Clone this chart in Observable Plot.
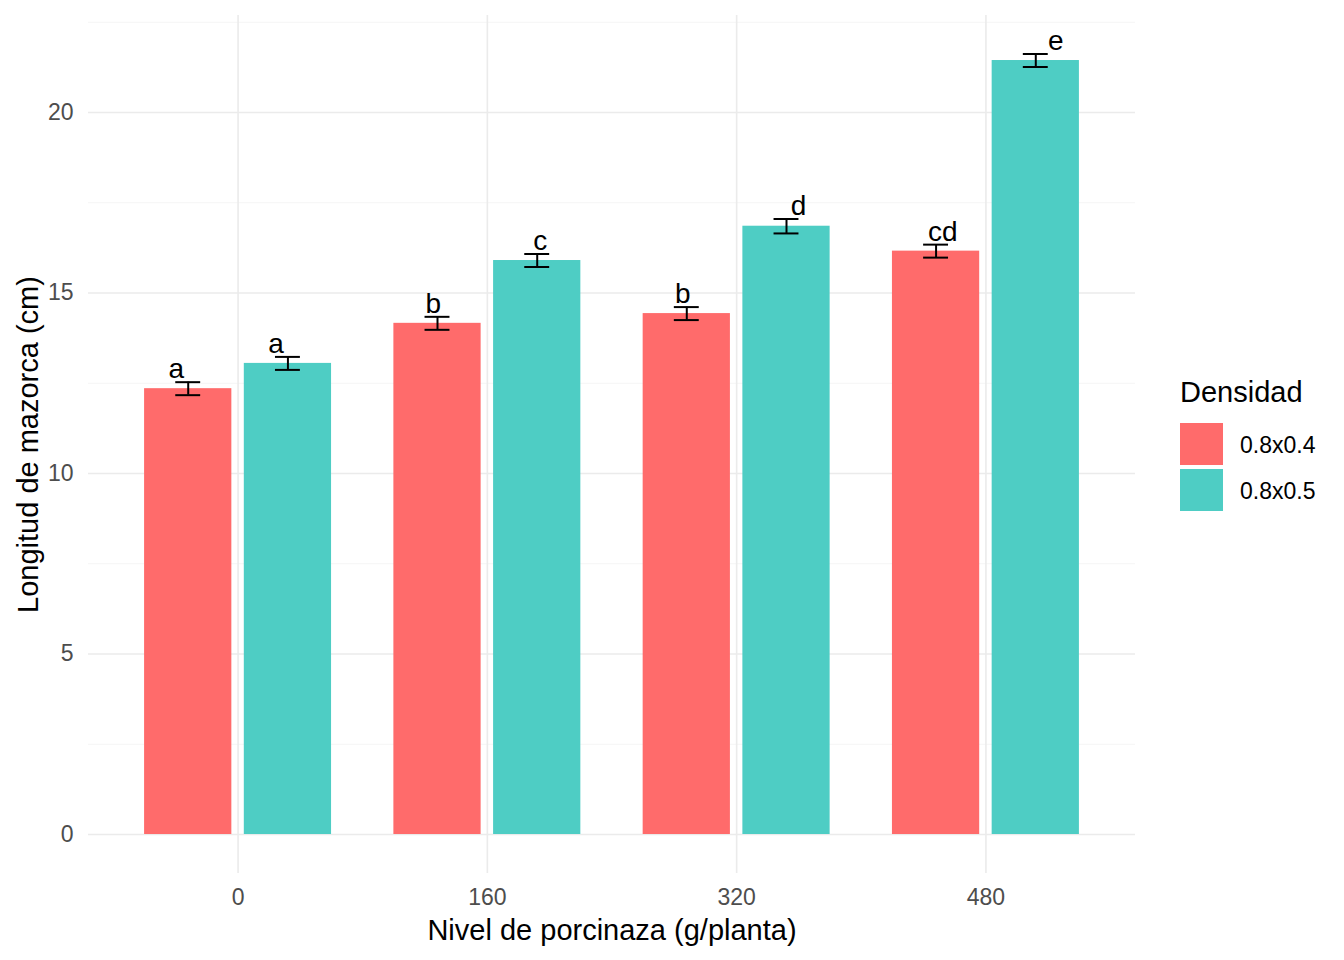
<!DOCTYPE html>
<html>
<head>
<meta charset="utf-8">
<script src="https://cdn.jsdelivr.net/npm/d3@7"></script>
<script src="https://cdn.jsdelivr.net/npm/@observablehq/plot@0.6"></script>
<style>
  html, body { margin: 0; padding: 0; background: #fff; }
  #wrap { position: relative; width: 1344px; height: 960px; font-family: "Liberation Sans", Arial, sans-serif; }
  #legend { position: absolute; left: 1180px; top: 375px; color: #000; }
  #legend .title { font-size: 29px; line-height: 34px; margin-bottom: 12px; }
  #legend .row { display: flex; align-items: center; height: 46px; }
  #legend .key { width: 43px; height: 42px; margin-right: 17px; }
  #legend .lab { font-size: 23px; margin-top: 2px; }
</style>
</head>
<body>
<div id="wrap"></div>
<script>
// ---- data ----
const niveles = ["0", "160", "320", "480"];
const densidades = ["0.8x0.4", "0.8x0.5"];
const media04 = [12.35, 14.16, 14.43, 16.16];
const media05 = [13.05, 15.90, 16.85, 21.44];
const ee04 = [0.18, 0.18, 0.18, 0.18];
const ee05 = [0.18, 0.18, 0.20, 0.18];
const letras04 = ["a", "b", "b", "cd"];
const letras05 = ["a", "c", "d", "e"];
const yTicks = [0, 5, 10, 15, 20];
const yMinor = [2.5, 7.5, 12.5, 17.5, 22.5];
const colores = ["#FF6B6B", "#4ECDC4"];

// ---- layout (dodge) ----
const dodge = [-0.2, 0.2];
const barW = 0.35;
const capW = 0.1;
const labelShift = [[-0.048, -0.048], [-0.017, 0.012], [-0.016, 0.048], [0.027, 0.08]];

const rows = [];
niveles.forEach((n, i) => {
  [[media04, ee04, letras04], [media05, ee05, letras05]].forEach(([m, e, l], j) => {
    const xc = i + dodge[j];
    rows.push({
      nivel: n, dens: densidades[j], media: m[i], ee: e[i], letra: l[i],
      xc, x1: xc - barW / 2, x2: xc + barW / 2,
      c1: xc - capW / 2, c2: xc + capW / 2,
      lo: m[i] - e[i], hi: m[i] + e[i],
      xl: xc + labelShift[i][j]
    });
  });
});

const font = '"Liberation Sans", Arial, sans-serif';

const chart = Plot.plot({
  width: 1344,
  height: 960,
  marginLeft: 88,
  marginRight: 209,
  marginTop: 15,
  marginBottom: 87,
  style: { fontFamily: font, background: "#fff" },
  x: { domain: [-0.6, 3.6], axis: null },
  y: { domain: [-1.080, 22.687], axis: null },
  color: { domain: densidades, range: colores },
  marks: [
    Plot.ruleY(yMinor, { stroke: "#F5F5F5", strokeWidth: 1 }),
    Plot.ruleY(yTicks, { stroke: "#EBEBEB", strokeWidth: 1.6 }),
    Plot.ruleX(niveles.map((d, i) => i), { stroke: "#EBEBEB", strokeWidth: 1.6 }),
    Plot.rectY(rows, { x1: "x1", x2: "x2", y1: 0, y2: "media", fill: "dens" }),
    Plot.ruleX(rows, { x: "xc", y1: "lo", y2: "hi", stroke: "#000", strokeWidth: 2 }),
    Plot.ruleY(rows, { x1: "c1", x2: "c2", y: "lo", stroke: "#000", strokeWidth: 2 }),
    Plot.ruleY(rows, { x1: "c1", x2: "c2", y: "hi", stroke: "#000", strokeWidth: 2 }),
    Plot.text(rows, { x: "xl", y: "hi", text: "letra", lineAnchor: "bottom", dy: -4, fontSize: 28, fill: "#000" }),
    Plot.axisY(yTicks, { tickSize: 0, tickPadding: 15, fontSize: 23, color: "#4D4D4D", label: null }),
    Plot.axisX(niveles.map((d, i) => i), { tickSize: 0, tickPadding: 15, fontSize: 23, color: "#4D4D4D", tickFormat: i => niveles[i], label: null }),
    Plot.text(["Nivel de porcinaza (g/planta)"], { frameAnchor: "bottom", textAnchor: "middle", lineAnchor: "bottom", dy: 66, fontSize: 29, fill: "#000" }),
    Plot.text(["Longitud de mazorca (cm)"], { frameAnchor: "left", textAnchor: "middle", lineAnchor: "bottom", rotate: -90, dx: -51, fontSize: 29, fill: "#000" })
  ]
});

const wrap = document.getElementById("wrap");
wrap.appendChild(chart);

// legend
const leg = document.createElement("div");
leg.id = "legend";
leg.innerHTML = '<div class="title">Densidad</div>' +
  densidades.map((d, j) => `<div class="row"><div class="key" style="background:${colores[j]}"></div><div class="lab">${d}</div></div>`).join("");
wrap.appendChild(leg);
</script>
</body>
</html>
